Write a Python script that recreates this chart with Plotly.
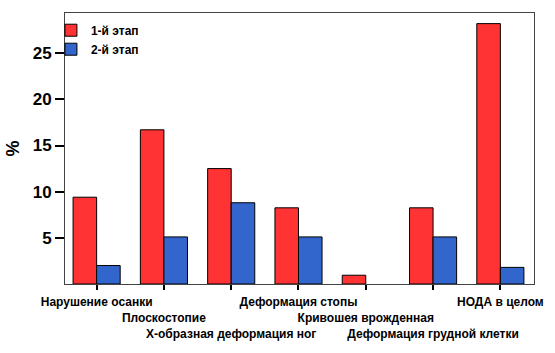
import plotly.graph_objects as go

categories = ["Нарушение осанки", "Плоскостопие", "Х-образная деформация ног",
              "Деформация стопы", "Кривошея врожденная", "Деформация грудной клетки",
              "НОДА в целом"]
stage1 = [9.4, 16.7, 12.5, 8.25, 0.95, 8.25, 28.2]
stage2 = [2.0, 5.1, 8.8, 5.1, 0.0, 5.1, 1.8]
series_names = ["1-й этап", "2-й этап"]
y_ticks = [5, 10, 15, 20, 25]

# staggered labels in three rows
rows = [0, 1, 2, 0, 1, 2, 0]
tick_text = ["&nbsp;<br>" * r + c for c, r in zip(categories, rows)]

FONT = "Liberation Sans"


def outline(vals):
    return [1 if v > 0 else 0 for v in vals]


fig = go.Figure()
fig.add_bar(x=list(range(len(categories))), y=stage1, name=series_names[0],
            marker=dict(color="#FF3333", line=dict(color="black", width=outline(stage1))))
fig.add_bar(x=list(range(len(categories))), y=stage2, name=series_names[1],
            marker=dict(color="#3366CC", line=dict(color="black", width=outline(stage2))))

fig.update_layout(
    width=555, height=353,
    margin=dict(l=58, r=16, t=12, b=68),
    paper_bgcolor="white", plot_bgcolor="white",
    barmode="group", bargap=0.3, bargroupgap=0,
    font=dict(family=FONT, size=12, color="black", weight="bold"),
    showlegend=True,
    legend=dict(x=-0.03, y=0.99, xanchor="left", yanchor="top",
                bgcolor="rgba(0,0,0,0)", font=dict(size=12, weight="bold"),
                itemwidth=30, tracegroupgap=4),
)
fig.update_xaxes(
    range=[-0.47, 6.5], tickmode="array", tickvals=list(range(len(categories))),
    ticktext=tick_text, ticks="outside", ticklen=5, tickwidth=2, tickcolor="black",
    showline=True, linecolor="#444444", linewidth=1, mirror=True,
    showgrid=False, tickfont=dict(size=12, weight="bold"), tickangle=0,
    ticklabelstandoff=2,
)
fig.update_yaxes(
    range=[0, 29.35], tickmode="array", tickvals=y_ticks,
    ticks="outside", ticklen=9, tickwidth=2, tickcolor="black",
    showline=True, linecolor="#444444", linewidth=1, mirror=True,
    showgrid=False, zeroline=False, tickfont=dict(size=17, weight="bold"),
    title=dict(text="%", font=dict(size=18, weight="bold"), standoff=8),
)
fig.write_html("out.html")
